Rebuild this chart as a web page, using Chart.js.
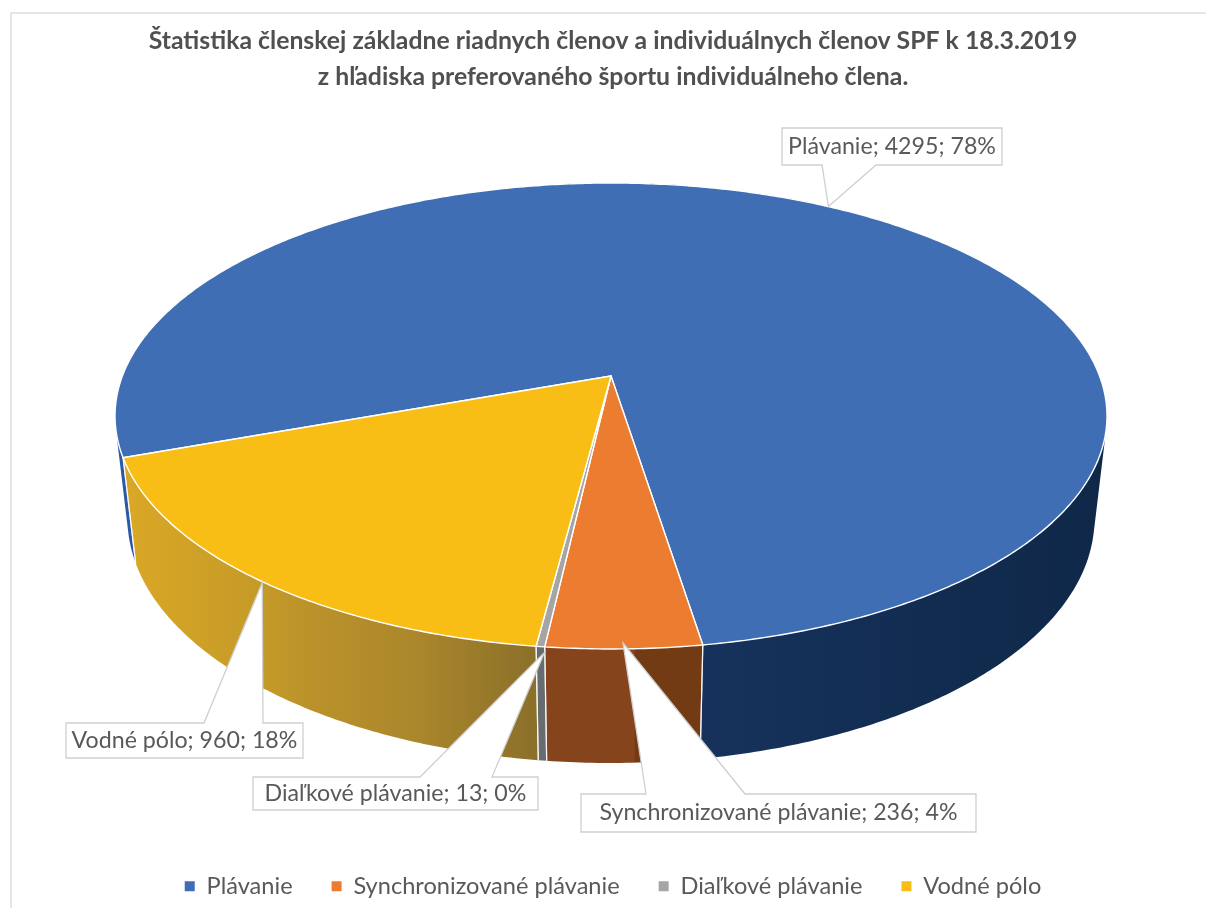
<!DOCTYPE html>
<html lang="sk">
<head>
<meta charset="utf-8">
<title>Štatistika členskej základne</title>
<script src="https://cdn.jsdelivr.net/npm/chart.js@4/dist/chart.umd.min.js"></script>
<style>
  html, body { margin: 0; background: #fff; overflow: hidden; }
  #frame { position: absolute; left: 10px; top: 12px; right: -10px; bottom: -10px;
           border-left: 2px solid #e6e6e6; border-top: 2px solid #e6e6e6; }
  #wrap { position: absolute; left: 0; top: 0; width: 1206px; height: 908px; overflow: hidden; }
</style>
</head>
<body>
<div id="frame"></div>
<div id="wrap"><canvas id="pie" width="1206" height="908"></canvas></div>
<script>
'use strict';

// ── Data ─────────────────────────────────────────────────────────
const categories = ['Plávanie', 'Synchronizované plávanie', 'Diaľkové plávanie', 'Vodné pólo'];
const members = [4295, 236, 13, 960];
const percents = [78, 4, 0, 18];
const titleLines = [
  'Štatistika členskej základne riadnych členov a individuálnych členov SPF k 18.3.2019',
  'z hľadiska preferovaného športu individuálneho člena.',
];

// ── Styles ───────────────────────────────────────────────────────
const FONT = 'Lato, "Open Sans", sans-serif';
const TEXT = '#595959';
const topColors = ['#406eb4', '#ec7c30', '#a5a5a5', '#f8be15'];
const wallStops = [
  [[0, '#2a5aa6'], [0.03, '#2a5aa6'], [0.59, '#16325c'], [1, '#0f2848']],
  [[0, '#86441d'], [0.55, '#86441d'], [0.56, '#733b14'], [1, '#733b14']],
  [[0, '#686b70'], [1, '#686b70']],
  [[0, '#dba826'], [0.33, '#c49a28'], [0.45, '#bb922a'], [0.7, '#ab872c'], [1, '#8a6f2a']],
];
const wallRange = [[115, 1107], [548, 704], [540, 548], [123, 540]];

// ── Perspective of the 3D disc ───────────────────────────────────
const DISC = { cx: 611, cy: 376, a: 488.6, b: 226.1, tilt: 0.1717, shrink: 0.025, depth: 104.1 };

function project(t, h) {
  const u = Math.cos(t);
  const v = Math.sin(t);
  const w = 1 + DISC.shrink * h - DISC.tilt * v;
  return { x: DISC.cx + DISC.a * u / w, y: DISC.cy + (DISC.b * v + DISC.depth * h) / w };
}

function arcAngles(start, end) {
  const n = Math.max(2, Math.ceil((end - start) / 0.01));
  const out = [];
  for (let i = 0; i <= n; i++) out.push(start + (end - start) * i / n);
  return out;
}

// ── Callouts: box [x, y, w, h], wedge base [x1, x2] on the edge facing the pie ──
const callouts = [
  { box: [782, 128, 220, 37], base: [822, 876], below: true, nudge: [1, 0] },
  { box: [581, 794, 395, 38], base: [646, 745], below: false, nudge: [-1, -6] },
  { box: [253, 777, 285, 33], base: [420, 492], below: false, nudge: [4, 6] },
  { box: [66, 723, 237, 35], base: [204, 263], below: false, nudge: [4, 3] },
];

function drawWall(ctx, arc, i) {
  const [x0, x1] = wallRange[i];
  const grad = ctx.createLinearGradient(x0, 0, x1, 0);
  wallStops[i].forEach(([p, c]) => grad.addColorStop(p, c));
  const ts = arcAngles(arc.startAngle, arc.endAngle);
  ctx.beginPath();
  for (let k = 0; k < ts.length - 1; k++) {
    const quad = [project(ts[k], 0), project(ts[k + 1], 0), project(ts[k + 1], 1), project(ts[k], 1)];
    // same winding on every quad, so the one fill is a clean union
    let area = 0;
    quad.forEach((p, j) => {
      const q = quad[(j + 1) % 4];
      area += p.x * q.y - q.x * p.y;
    });
    if (area < 0) quad.reverse();
    ctx.moveTo(quad[0].x, quad[0].y);
    ctx.lineTo(quad[1].x, quad[1].y);
    ctx.lineTo(quad[2].x, quad[2].y);
    ctx.lineTo(quad[3].x, quad[3].y);
    ctx.closePath();
  }
  ctx.fillStyle = grad;
  ctx.fill();
}

function drawWallEdges(ctx, arc) {
  ctx.strokeStyle = 'rgba(255,255,255,0.8)';
  ctx.lineWidth = 1.2;
  [arc.startAngle, arc.endAngle].forEach((t) => {
    const a = project(t, 0), b = project(t, 1);
    ctx.beginPath();
    ctx.moveTo(a.x, a.y);
    ctx.lineTo(b.x, b.y);
    ctx.stroke();
  });
}

function drawTop(ctx, arc) {
  ctx.beginPath();
  ctx.moveTo(DISC.cx, DISC.cy);
  arcAngles(arc.startAngle, arc.endAngle).forEach((t) => {
    const p = project(t, 0);
    ctx.lineTo(p.x, p.y);
  });
  ctx.closePath();
  ctx.fillStyle = arc.options.backgroundColor;
  ctx.fill();
  ctx.strokeStyle = '#fff';
  ctx.lineWidth = 1.4;
  ctx.lineJoin = 'round';
  ctx.stroke();
}

function drawCallout(ctx, arc, i) {
  const { box: [x, y, w, h], base, below, nudge } = callouts[i];
  const mid = project((arc.startAngle + arc.endAngle) / 2, 0);
  const tip = { x: mid.x + nudge[0], y: mid.y + nudge[1] };
  ctx.beginPath();
  ctx.moveTo(x, y);
  if (!below) { ctx.lineTo(base[0], y); ctx.lineTo(tip.x, tip.y); ctx.lineTo(base[1], y); }
  ctx.lineTo(x + w, y);
  ctx.lineTo(x + w, y + h);
  if (below) { ctx.lineTo(base[1], y + h); ctx.lineTo(tip.x, tip.y); ctx.lineTo(base[0], y + h); }
  ctx.lineTo(x, y + h);
  ctx.closePath();
  ctx.fillStyle = '#fff';
  ctx.fill();
  ctx.strokeStyle = '#cfcfcf';
  ctx.lineWidth = 1.3;
  ctx.lineJoin = 'miter';
  ctx.stroke();

  ctx.fillStyle = TEXT;
  ctx.font = `23.2px ${FONT}`;
  ctx.textAlign = 'center';
  ctx.textBaseline = 'middle';
  ctx.fillText(`${categories[i]}; ${members[i]}; ${percents[i]}%`, x + w / 2, y + h / 2);
}

const disc3d = {
  id: 'disc3d',
  beforeDatasetsDraw(chart) {
    const { ctx } = chart;
    const arcs = chart.getDatasetMeta(0).data;
    ctx.save();
    arcs.forEach((arc, i) => drawWall(ctx, arc, i));
    arcs.forEach((arc) => drawWallEdges(ctx, arc));
    arcs.forEach((arc) => drawTop(ctx, arc));
    arcs.forEach((arc, i) => drawCallout(ctx, arc, i));
    ctx.restore();
    return false;
  },
};

// ── Chart ────────────────────────────────────────────────────────
new Chart(document.getElementById('pie'), {
  type: 'pie',
  data: {
    labels: categories,
    datasets: [{ data: members, backgroundColor: topColors, borderWidth: 0 }],
  },
  options: {
    responsive: false,
    animation: false,
    rotation: 250.1,
    layout: { padding: { left: 20 } },
    plugins: {
      tooltip: { enabled: false },
      title: {
        display: true,
        text: titleLines,
        color: '#505050',
        font: { family: FONT, size: 24.8, weight: 'bold', lineHeight: 1.45 },
        padding: { top: 23, bottom: 0 },
      },
      legend: {
        position: 'bottom',
        labels: {
          color: TEXT,
          font: { family: FONT, size: 23.6 },
          boxWidth: 10,
          boxHeight: 10,
          padding: 39,
        },
      },
    },
  },
  plugins: [disc3d],
});
</script>
</body>
</html>
